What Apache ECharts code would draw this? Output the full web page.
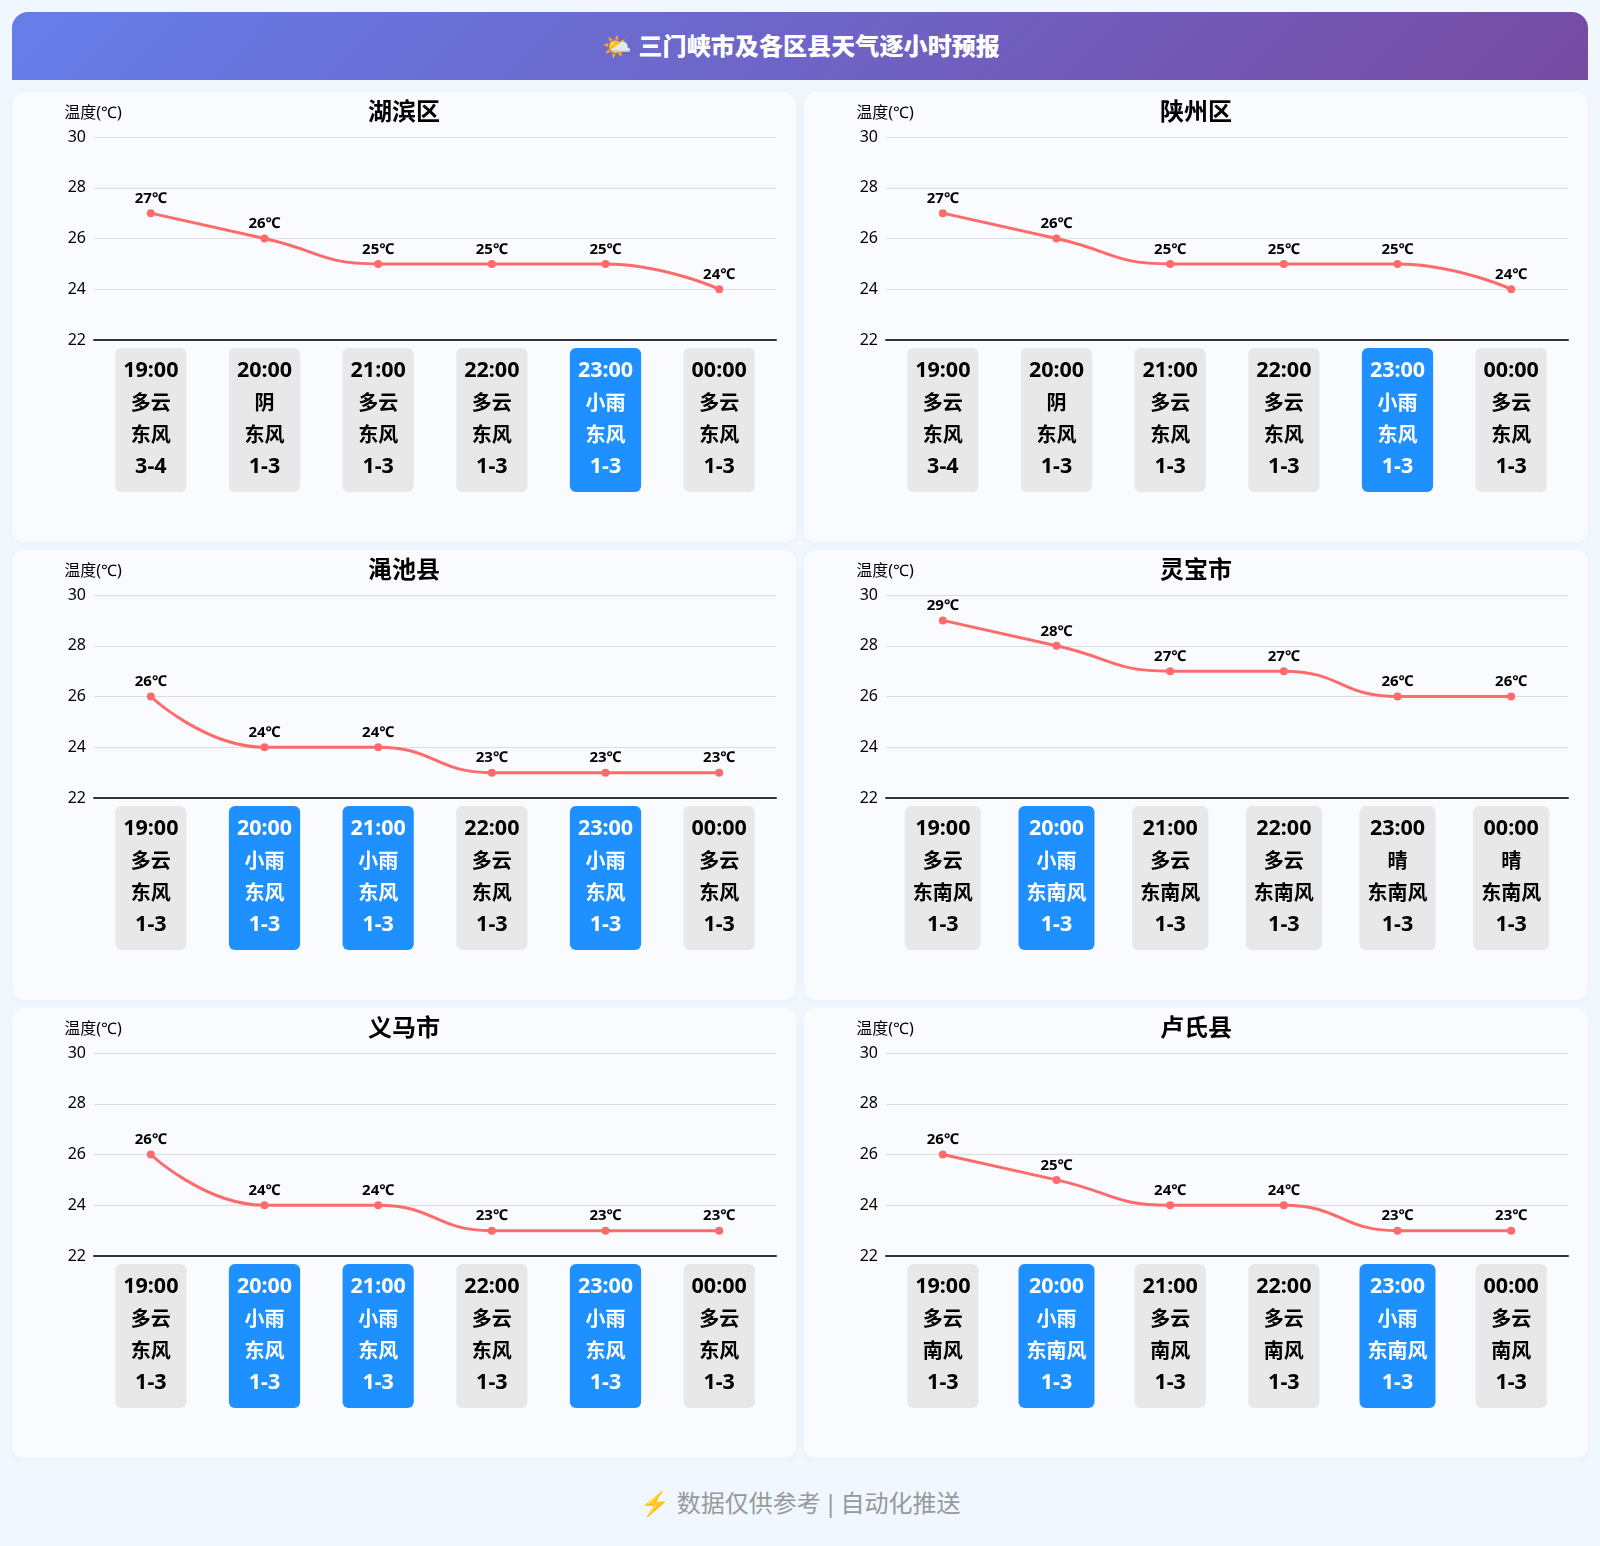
<!DOCTYPE html>
<html lang="zh">
<head>
<meta charset="utf-8">
<title>三门峡市及各区县天气逐小时预报</title>
<script src="https://cdn.jsdelivr.net/npm/echarts@6/dist/echarts.min.js"></script>
<style>
*{box-sizing:border-box}
html,body{margin:0;padding:0;width:1600px;height:1546px;background:#f0f7ff;overflow:hidden;font-family:"Noto Sans","Noto Sans CJK SC",sans-serif}
#header{position:absolute;left:12px;top:12px;width:1576px;height:68px;padding-bottom:3px;padding-left:2px;border-radius:16px 16px 0 0;background:linear-gradient(135deg,#667eea,#764ba2);color:#fff;font-size:24px;font-weight:900;letter-spacing:.1px;display:flex;align-items:center;justify-content:center}
.card{position:absolute;width:784px;height:450px;border-radius:12px;background:#fafbff;box-shadow:0 2px 8px rgba(0,0,0,.03)}
#footer{position:absolute;left:0;width:1600px;top:1483px;height:40px;line-height:40px;text-align:center;color:#999;font-size:24px;word-spacing:-3px}
#footer span{margin-right:4px}
</style>
</head>
<body>
<div id="header">🌤️&nbsp;三门峡市及各区县天气逐小时预报</div>
<div id="charts"></div>
<div id="footer"><span>⚡</span> 数据仅供参考 | 自动化推送</div>
<script>
const hours = ['19:00','20:00','21:00','22:00','23:00','00:00'];
const yTicks = {min:22,max:30,interval:2};

const cityNames = ['湖滨区','陕州区','渑池县','灵宝市','义马市','卢氏县'];

const tempHubin   = [27,26,25,25,25,24];
const tempShanzhou= [27,26,25,25,25,24];
const tempMianchi = [26,24,24,23,23,23];
const tempLingbao = [29,28,27,27,26,26];
const tempYima    = [26,24,24,23,23,23];
const tempLushi   = [26,25,24,24,23,23];

const wxHubin   = ['多云','阴','多云','多云','小雨','多云'];
const wxShanzhou= ['多云','阴','多云','多云','小雨','多云'];
const wxMianchi = ['多云','小雨','小雨','多云','小雨','多云'];
const wxLingbao = ['多云','小雨','多云','多云','晴','晴'];
const wxYima    = ['多云','小雨','小雨','多云','小雨','多云'];
const wxLushi   = ['多云','小雨','多云','多云','小雨','多云'];

const dirHubin   = ['东风','东风','东风','东风','东风','东风'];
const dirShanzhou= ['东风','东风','东风','东风','东风','东风'];
const dirMianchi = ['东风','东风','东风','东风','东风','东风'];
const dirLingbao = ['东南风','东南风','东南风','东南风','东南风','东南风'];
const dirYima    = ['东风','东风','东风','东风','东风','东风'];
const dirLushi   = ['南风','东南风','南风','南风','东南风','南风'];

const lvlHubin   = ['3-4','1-3','1-3','1-3','1-3','1-3'];
const lvlShanzhou= ['3-4','1-3','1-3','1-3','1-3','1-3'];
const lvlMianchi = ['1-3','1-3','1-3','1-3','1-3','1-3'];
const lvlLingbao = ['1-3','1-3','1-3','1-3','1-3','1-3'];
const lvlYima    = ['1-3','1-3','1-3','1-3','1-3','1-3'];
const lvlLushi   = ['1-3','1-3','1-3','1-3','1-3','1-3'];

const temps = [tempHubin,tempShanzhou,tempMianchi,tempLingbao,tempYima,tempLushi];
const wx    = [wxHubin,wxShanzhou,wxMianchi,wxLingbao,wxYima,wxLushi];
const dirs  = [dirHubin,dirShanzhou,dirMianchi,dirLingbao,dirYima,dirLushi];
const lvls  = [lvlHubin,lvlShanzhou,lvlMianchi,lvlLingbao,lvlYima,lvlLushi];

const FONT = '"Noto Sans","Noto Sans CJK SC",sans-serif';
const host = document.getElementById('charts');

cityNames.forEach((name,i)=>{
  const col = i%2, row = Math.floor(i/2);
  const div = document.createElement('div');
  div.className = 'card';
  div.style.left = (12+col*792)+'px';
  div.style.top  = (92+row*458)+'px';
  host.appendChild(div);
  const chart = echarts.init(div,null,{renderer:'canvas',width:784,height:450});
  const cats = hours.map((h,k)=>{
    const rain = wx[i][k].indexOf('雨')>=0;
    const item = {value:[h,wx[i][k],dirs[i][k],lvls[i][k]].join('\n')};
    if(rain) item.textStyle = {color:'#fff',backgroundColor:'#1e90ff'};
    return item;
  });
  chart.setOption({
    animation:false,
    backgroundColor:'transparent',
    textStyle:{fontFamily:FONT},
    title:{text:name,left:'center',top:4,textStyle:{fontSize:24,fontWeight:'bold',color:'#000',fontFamily:FONT}},
    grid:{left:82,right:20,top:45,bottom:202,containLabel:false},
    xAxis:{
      type:'category',
      data:cats,
      axisTick:{show:false},
      axisLine:{lineStyle:{color:'#333',width:2}},
      axisLabel:{
        interval:0,margin:8,color:'#000',fontSize:20,fontWeight:'bold',lineHeight:32,
        fontFamily:FONT,backgroundColor:'#e8e8e8',borderRadius:6,padding:[8,8,8,8],
        formatter:function(v){
          const p = v.split('\n');
          return '{t|'+p[0]+'}\n'+p[1]+'\n'+p[2]+'\n{t|'+p[3]+'}';
        },
        rich:{t:{fontSize:21.5,fontWeight:'bold',lineHeight:32,fontFamily:FONT,padding:[0,0,2,0]}}
      }
    },
    yAxis:{
      type:'value',name:'温度(℃)',min:yTicks.min,max:yTicks.max,interval:yTicks.interval,
      nameGap:15,
      nameTextStyle:{color:'#000',fontSize:16,fontFamily:FONT,padding:[0,2,1,0]},
      axisLabel:{color:'#000',fontSize:16,fontFamily:FONT,padding:[0,0,6,0]},
      splitLine:{lineStyle:{color:'#ddd',width:1}},
      axisLine:{show:false},axisTick:{show:false}
    },
    series:[{
      type:'line',data:temps[i],smooth:true,symbol:'circle',symbolSize:8,
      lineStyle:{color:'#ff6b6b',width:3},itemStyle:{color:'#ff6b6b'},
      label:{show:true,position:'top',distance:3,formatter:'{c}℃',color:'#000',fontSize:15,fontWeight:'bold',fontFamily:FONT}
    }]
  });
});
</script>
</body>
</html>
